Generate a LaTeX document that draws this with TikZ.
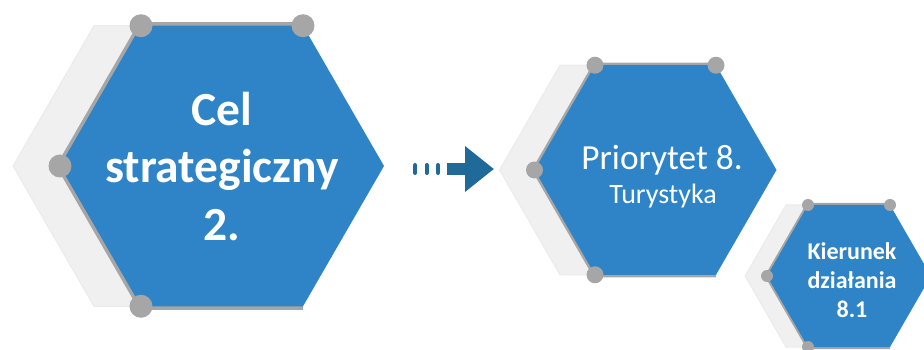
\documentclass[tikz,border=0pt]{standalone}
\usepackage{fontspec}
\setmainfont{Carlito}
\usetikzlibrary{arrows.meta}

\definecolor{hexblue}{RGB}{46,132,198}
\definecolor{hexgray}{RGB}{166,166,166}
\definecolor{hexshade}{RGB}{240,240,240}
\definecolor{arrowblue}{RGB}{31,106,153}

\tikzset{
  shadowhex/.style={fill=hexshade, draw=black!8, line width=1pt},
  bluehex/.style={fill=hexblue},
  rimline/.style={draw=hexgray, line join=round},
  cornerdot/.style={fill=hexgray},
  hextext/.style={text=white, align=center, inner sep=0pt},
}

\begin{document}
\begin{tikzpicture}[x=1pt, y=-1pt]
    \useasboundingbox (0,0) rectangle (924,350);
    \clip (0,0) rectangle (924,350);

    % name / centre x / centre y / radius / shadow shift / rim width / dot radius
    \foreach \nm/\cx/\cy/\R/\sh/\rw/\dr in {cel/222/166/162/47/7/11.5, prio/655.5/170/121/35/5/8.5, kier/849/276/82/22/4/6} {
        \pgfmathsetmacro{\hw}{\R/2}
        \pgfmathsetmacro{\hh}{\R*0.866}
        \coordinate (\nm) at (\cx,\cy);
        \begin{scope}[xshift=-\sh]
            \filldraw[shadowhex] (\cx-\hw,\cy-\hh) -- (\cx+\hw,\cy-\hh) -- (\cx+\R,\cy) -- (\cx+\hw,\cy+\hh) -- (\cx-\hw,\cy+\hh) -- (\cx-\R,\cy) -- cycle;
        \end{scope}
        \draw[rimline, line width=\rw] (\cx+\hw,\cy-\hh) -- (\cx-\hw,\cy-\hh) -- (\cx-\R,\cy) -- (\cx-\hw,\cy+\hh) -- (\cx+\hw,\cy+\hh);
        \fill[bluehex] (\cx-\hw,\cy-\hh) -- (\cx+\hw,\cy-\hh) -- (\cx+\R,\cy) -- (\cx+\hw,\cy+\hh) -- (\cx-\hw,\cy+\hh) -- (\cx-\R,\cy) -- cycle;
        \foreach \p in {(\cx-\hw,\cy-\hh), (\cx+\hw,\cy-\hh), (\cx-\R,\cy), (\cx-\hw,\cy+\hh)}
            \fill[cornerdot] \p circle (\dr);
    }

    % dotted tail and arrow
    \foreach \bx in {415, 426.5, 438}
        \draw[arrowblue, line width=4, line cap=round] (\bx,165) -- (\bx,173);
    \coordinate (arrowtail) at (447,169);
    \coordinate (arrowtip) at (494,169);
    \draw[arrowblue, line width=12, -{Triangle[length=29pt, width=44pt]}] (arrowtail) -- (arrowtip);

    \node[hextext, font=\fontsize{47.5}{57.5}\selectfont\bfseries] (celtxt) at (222,166) {Cel\\strategiczny\\2.};
    \node[hextext, anchor=base, font=\fontsize{35.3}{40}\selectfont] (priotxt) at (662,169) {Priorytet 8.};
    \node[hextext, anchor=base, font=\fontsize{28}{30}\selectfont] (turtxt) at (663,204) {Turystyka};
    \node[hextext, font=\fontsize{24}{29}\selectfont\bfseries] (kiertxt) at (852,280.5) {Kierunek\\działania\\8.1};
\end{tikzpicture}
\end{document}
